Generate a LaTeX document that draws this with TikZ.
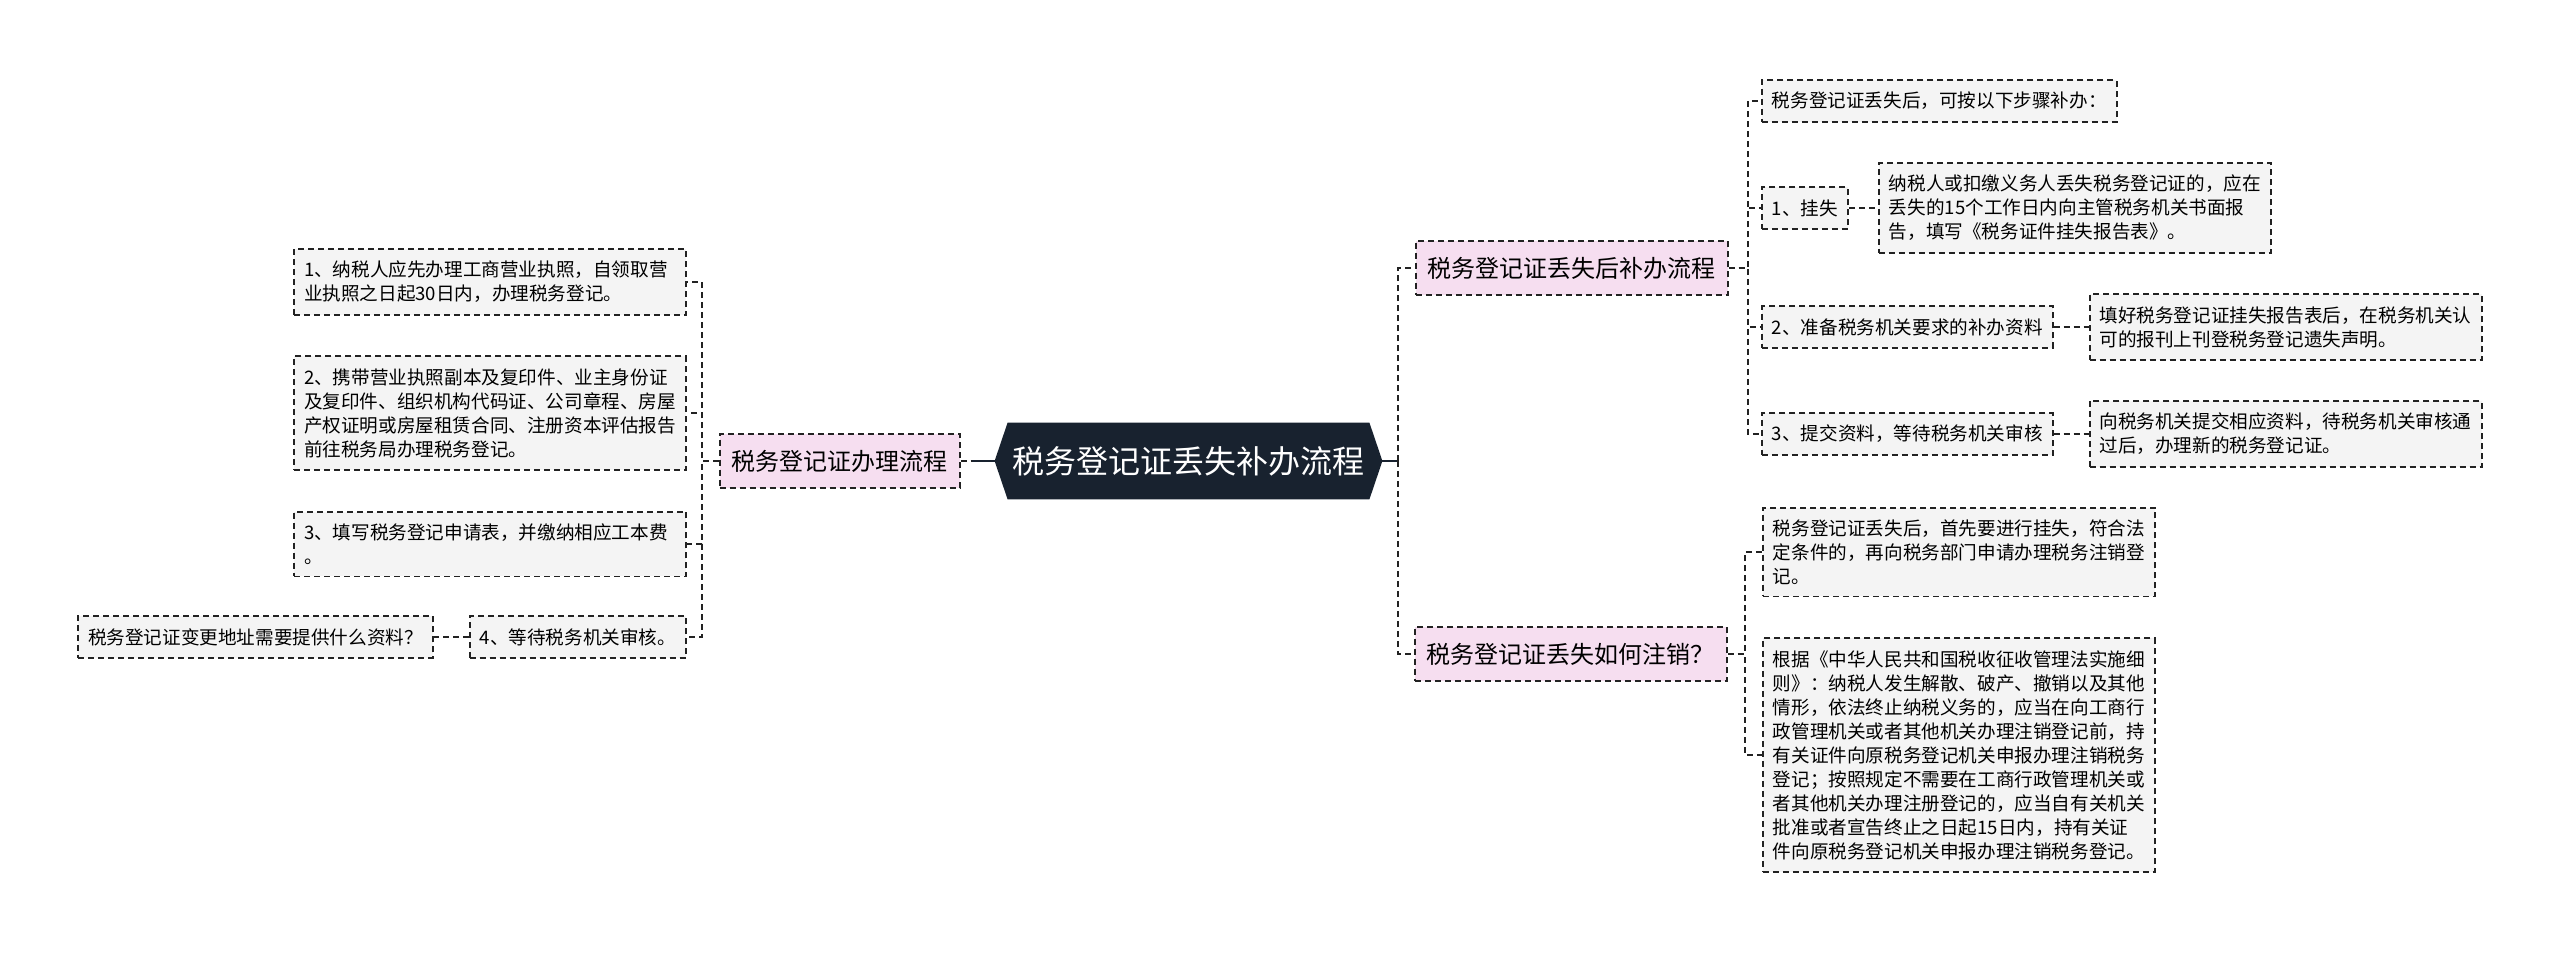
\documentclass[tikz,border=0pt]{standalone}
\usepackage{fontspec}
\setmainfont{Noto Sans CJK SC}
\usetikzlibrary{positioning, calc, backgrounds}

\definecolor{rootbg}{HTML}{18222F}
\definecolor{pinkbg}{HTML}{F6DEF0}
\definecolor{leafbg}{HTML}{F4F4F4}
\definecolor{edgegray}{HTML}{222222}

\tikzset{
  leaf/.style={draw=edgegray, dash pattern=on 3pt off 2pt, line width=0.95pt,
               fill=leafbg, font=\fontsize{9.3pt}{12pt}\selectfont,
               inner xsep=5pt, inner ysep=6pt},
  wide/.style={leaf, text width=186pt, align=left},
  branch/.style={draw=edgegray, dash pattern=on 3pt off 2pt, line width=0.95pt,
                 fill=pinkbg, font=\fontsize{12pt}{14pt}\selectfont,
                 inner xsep=6pt, inner ysep=8pt},
  link/.style={draw=edgegray, dash pattern=on 3pt off 2pt, line width=0.95pt},
  rootlink/.style={draw=rootbg, line width=1.1pt}
}

\begin{document}
\begin{tikzpicture}[x=0.5pt, y=-0.5pt]
  \useasboundingbox (0,0) rectangle (2560,953);

  % Root
  \node[font=\fontsize{16pt}{18pt}\selectfont, text=white, inner sep=0pt,
        minimum width=193.5pt, minimum height=38pt] (root) at (1188.5,461)
        {税务登记证丢失补办流程};
  \begin{scope}[on background layer]
    \fill[rootbg] (root.west) -- ([xshift=6.5pt]root.north west)
      -- ([xshift=-6.5pt]root.north east) -- (root.east)
      -- ([xshift=-6.5pt]root.south east) -- ([xshift=6.5pt]root.south west) -- cycle;
  \end{scope}

  % Left branch
  \node[branch, left=17pt of root] (lb) {税务登记证办理流程};
  \node[wide, anchor=east] (l1) at (687,282)
    {1、纳税人应先办理工商营业执照，自领取营\\业执照之日起30日内，办理税务登记。};
  \node[wide, anchor=east] (l2) at (687,413)
    {2、携带营业执照副本及复印件、业主身份证\\及复印件、组织机构代码证、公司章程、房屋\\产权证明或房屋租赁合同、注册资本评估报告\\前往税务局办理税务登记。};
  \node[wide, anchor=east] (l3) at (687,544)
    {3、填写税务登记申请表，并缴纳相应工本费\\。};
  \node[leaf, anchor=east] (l4) at (687,637) {4、等待税务机关审核。};
  \node[leaf, left=17.5pt of l4] (q) {税务登记证变更地址需要提供什么资料？};

  \draw[link] (lb.east) -- ++(11,0) coordinate (lhub);
  \draw[rootlink] (root.west) -- (lhub);
  \foreach \n in {l1,l2,l3,l4}
    \draw[link] (lb.west) -- ++(-17,0) |- (\n.east);
  \draw[link] (l4.west) -- (q.east);

  % Right branches
  \node[branch, anchor=west] (r1) at (1415,268) {税务登记证丢失后补办流程};
  \node[branch, anchor=west] (r2) at (1414,654) {税务登记证丢失如何注销？};
  \draw[rootlink] (root.east) -- ++(16,0) coordinate (rhub);
  \foreach \n in {r1,r2}
    \draw[link] (rhub) |- (\n.west);

  % Steps after loss
  \node[leaf, anchor=west] (s0) at (1761,101) {税务登记证丢失后，可按以下步骤补办：};
  \node[leaf, anchor=west] (s1) at (1761,208) {1、挂失};
  \node[wide, anchor=west] (s1d) at (1878,208)
    {纳税人或扣缴义务人丢失税务登记证的，应在\\丢失的15个工作日内向主管税务机关书面报\\告，填写《税务证件挂失报告表》。};
  \node[leaf, anchor=west] (s2) at (1761,327) {2、准备税务机关要求的补办资料};
  \node[wide, right=17.5pt of s2] (s2d)
    {填好税务登记证挂失报告表后，在税务机关认\\可的报刊上刊登税务登记遗失声明。};
  \node[leaf, anchor=west] (s3) at (1761,434) {3、提交资料，等待税务机关审核};
  \node[wide, right=17.5pt of s3] (s3d)
    {向税务机关提交相应资料，待税务机关审核通\\过后，办理新的税务登记证。};

  \foreach \n in {s0,s1,s2,s3}
    \draw[link] (r1.east) -- ++(19,0) |- (\n.west);
  \draw[link] (s1.east) -- (s1d.west);
  \draw[link] (s2.east) -- (s2d.west);
  \draw[link] (s3.east) -- (s3d.west);

  % Cancellation
  \node[wide, anchor=west] (t1) at (1762,552)
    {税务登记证丢失后，首先要进行挂失，符合法\\定条件的，再向税务部门申请办理税务注销登\\记。};
  \node[wide, anchor=west] (t2) at (1762,755)
    {根据《中华人民共和国税收征收管理法实施细\\则》：纳税人发生解散、破产、撤销以及其他\\情形，依法终止纳税义务的，应当在向工商行\\政管理机关或者其他机关办理注销登记前，持\\有关证件向原税务登记机关申报办理注销税务\\登记；按照规定不需要在工商行政管理机关或\\者其他机关办理注册登记的，应当自有关机关\\批准或者宣告终止之日起15日内，持有关证\\件向原税务登记机关申报办理注销税务登记。};
  \foreach \n in {t1,t2}
    \draw[link] (r2.east) -- ++(17,0) |- (\n.west);
\end{tikzpicture}
\end{document}
